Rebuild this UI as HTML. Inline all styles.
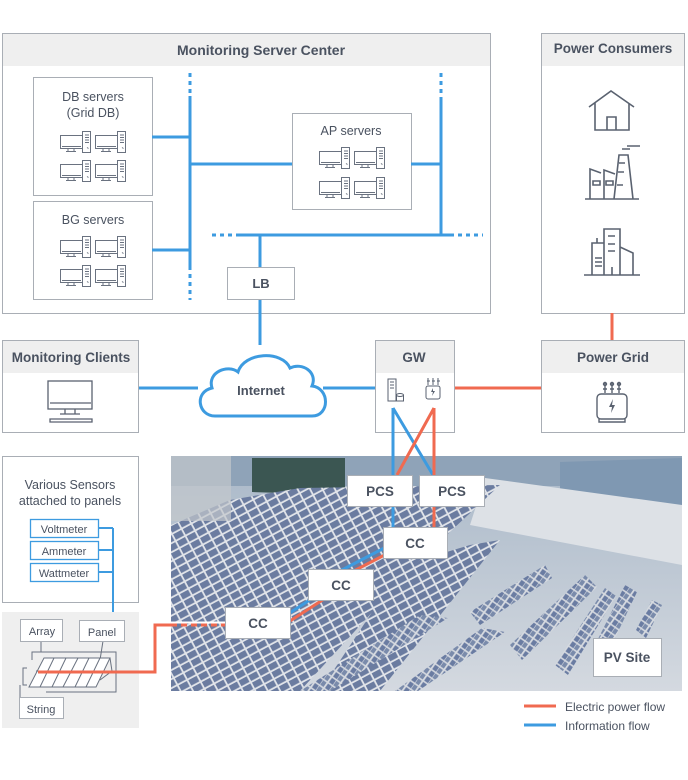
<!DOCTYPE html>
<html><head><meta charset="utf-8"><style>
body{margin:0;background:#fff}
svg{display:block}
text{font-family:"Liberation Sans",sans-serif;fill:#4a5260}
</style></head><body>
<svg width="688" height="780" viewBox="0 0 688 780" xmlns="http://www.w3.org/2000/svg">
<defs>
<g id="srv" fill="none" stroke="#6a7280" stroke-width="1">
<rect x="0.5" y="4.5" width="22" height="13"/>
<path d="M2 15.5h19M8 18v2M14 18v2M6 20.5h10"/>
<rect x="22.5" y="0.5" width="8" height="21"/>
<path d="M25 4h4M25 6.5h4M25 9h4M25 11.5h4M27 16.5l1.5 1"/>
</g>
<pattern id="pv" width="11" height="8" patternUnits="userSpaceOnUse" patternTransform="rotate(-28)">
<rect width="11" height="8" fill="#e2e5ea"/>
<rect x="1" y="1" width="9.2" height="6.2" fill="#6b7ca0"/>
</pattern>
<pattern id="pv2" width="7" height="11" patternUnits="userSpaceOnUse" patternTransform="rotate(-55)">
<rect width="7" height="11" fill="#d6dae0"/>
<rect x="0.8" y="0.8" width="5.4" height="4.6" fill="#6a7ca2"/>
<rect x="0.8" y="6" width="5.4" height="4" fill="#7a8bab"/>
</pattern>
<linearGradient id="sky" x1="0" y1="0" x2="0" y2="1"><stop offset="0" stop-color="#a9b8c8"/><stop offset="1" stop-color="#d4d9e0"/></linearGradient>
</defs>

<!-- Monitoring Server Center -->
<rect x="2.5" y="33.5" width="488" height="280" fill="#fff" stroke="#a9aeb5"/>
<rect x="3" y="34" width="487" height="32" fill="#efefef"/>
<text x="261" y="55" font-size="14" text-anchor="middle" font-weight="bold">Monitoring Server Center</text>

<rect x="33.5" y="77.5" width="119" height="118" fill="#fff" stroke="#a9aeb5"/>
<text x="93" y="101" font-size="12.5" text-anchor="middle">DB servers</text>
<text x="93" y="117" font-size="12.5" text-anchor="middle">(Grid DB)</text>
<use href="#srv" x="60" y="131"/><use href="#srv" x="95" y="131"/>
<use href="#srv" x="60" y="160"/><use href="#srv" x="95" y="160"/>

<rect x="33.5" y="201.5" width="119" height="98" fill="#fff" stroke="#a9aeb5"/>
<text x="93" y="224" font-size="12.5" text-anchor="middle">BG servers</text>
<use href="#srv" x="60" y="236"/><use href="#srv" x="95" y="236"/>
<use href="#srv" x="60" y="265"/><use href="#srv" x="95" y="265"/>

<rect x="292.5" y="113.5" width="119" height="96" fill="#fff" stroke="#a9aeb5"/>
<text x="351" y="135" font-size="12.5" text-anchor="middle">AP servers</text>
<use href="#srv" x="319" y="147"/><use href="#srv" x="354" y="147"/>
<use href="#srv" x="319" y="177"/><use href="#srv" x="354" y="177"/>

<g stroke="#3d9be0" stroke-width="3" fill="none">
<path d="M190 96V266M152 137H190M152 250H190M190 164H292M411 164H441M441 100V235M240 235H450M260 235V267M260 299V345"/>
<path d="M190 73V96M190 266V300M441 73V100M212 235H240M450 235H483" stroke-dasharray="4 4"/>
<path d="M139 388H198M323 388H376"/>
</g>

<rect x="227.5" y="267.5" width="67" height="32" fill="#fff" stroke="#a9aeb5"/>
<text x="261" y="288" font-size="13" font-weight="bold" text-anchor="middle">LB</text>

<!-- Power Consumers -->
<rect x="541.5" y="33.5" width="143" height="280" fill="#fff" stroke="#a9aeb5"/>
<rect x="542" y="34" width="142" height="32" fill="#efefef"/>
<text x="613" y="53" font-size="13.5" font-weight="bold" text-anchor="middle">Power Consumers</text>
<g fill="none" stroke="#5a6270" stroke-width="1.6">
<path d="M589 107L611 91L634 107M595 103V130H629V103M607 130V117H616V130"/>
<path d="M585 199H639M590 199V169L601 173M604 199V170L615 174M614 199L619 155H628L633 199M622 149H630M627 146H640M593 181h7v4h-7zM606 181h7v4h-7zM619 163h6M618 172h6M617 185h6"/>
<path d="M584 275H640M592 275V243H604V275M604 275V229H620V275M620 247L633 253V275M595 258H602M595 262H602M595 266H602M608 236H615M608 244H615M608 251H615M597 238V243M612 267V275"/>
</g>

<path d="M612 313V341" stroke="#f06a50" stroke-width="3"/>

<!-- Power Grid -->
<rect x="541.5" y="340.5" width="143" height="92" fill="#fff" stroke="#a9aeb5"/>
<rect x="542" y="341" width="142" height="32" fill="#efefef"/>
<text x="613" y="362" font-size="13.5" font-weight="bold" text-anchor="middle">Power Grid</text>
<g fill="none" stroke="#5a6270" stroke-width="1.4">
<rect x="597" y="394" width="30" height="25" rx="4"/>
<path d="M599 419v3h26v-3M605 383v10M612 383v10M619 383v10M603 389h4M610 389h4M617 389h4"/>
<circle cx="605" cy="384" r="1.5"/><circle cx="612" cy="384" r="1.5"/><circle cx="619" cy="384" r="1.5"/>
</g>
<path d="M613 399l-4 8h3l-1 6 4-8h-3z" fill="#5a6270"/>

<!-- Monitoring Clients -->
<rect x="2.5" y="340.5" width="136" height="92" fill="#fff" stroke="#a9aeb5"/>
<rect x="3" y="341" width="135" height="32" fill="#efefef"/>
<text x="71" y="362" font-size="13.5" font-weight="bold" text-anchor="middle">Monitoring Clients</text>
<g fill="none" stroke="#5a6270" stroke-width="1.3">
<rect x="48" y="381" width="44" height="28"/><path d="M50 403H91M65 409v5M75 409v5M60 414h20M50 419h42v3H50z"/>
</g>

<!-- Cloud -->
<path d="M215 416 C198 416 194 392 212 388 C207 372 228 364 238 372 C244 352 282 350 290 368 C302 362 318 372 312 386 C330 388 330 416 312 416 Z" fill="#fff" stroke="#3d9be0" stroke-width="3"/>
<text x="261" y="395" font-size="13" font-weight="bold" text-anchor="middle">Internet</text>

<!-- GW -->
<path d="M454 388H541" stroke="#f06a50" stroke-width="3"/>
<rect x="375.5" y="340.5" width="79" height="92" fill="#fff" stroke="#a9aeb5"/>
<rect x="376" y="341" width="78" height="32" fill="#efefef"/>
<text x="414" y="362" font-size="13.5" font-weight="bold" text-anchor="middle">GW</text>
<g fill="none" stroke="#5a6270" stroke-width="1">
<rect x="388" y="379" width="8" height="22"/><path d="M390 382h4M390 385h4M390 388h4"/><ellipse cx="400" cy="395" rx="3.5" ry="1.5"/><path d="M396.5 395v6h7v-6"/>
<rect x="426" y="386" width="14" height="13" rx="2"/><path d="M428 378v7M433 378v7M438 378v7M427 381h3M432 381h3M437 381h3"/>
</g>
<path d="M433 388l-2 4h2l-1 4 3-5h-2z" fill="#5a6270"/>

<!-- Sensors -->
<rect x="2.5" y="456.5" width="136" height="146" fill="#fff" stroke="#a9aeb5"/>
<text x="70" y="489" font-size="12.5" text-anchor="middle">Various Sensors</text>
<text x="70" y="505" font-size="12.5" text-anchor="middle">attached to panels</text>
<g fill="#fff" stroke="#3d9be0" stroke-width="1.3">
<rect x="30.5" y="519.5" width="68" height="18"/><rect x="30.5" y="541.5" width="68" height="18"/><rect x="30.5" y="563.5" width="68" height="18"/>
</g>
<text x="64" y="533" font-size="11" text-anchor="middle">Voltmeter</text>
<text x="64" y="555" font-size="11" text-anchor="middle">Ammeter</text>
<text x="64" y="577" font-size="11" text-anchor="middle">Wattmeter</text>
<path d="M99 528H113M99 550H113M99 572H113M113 528V620" stroke="#3d9be0" stroke-width="2" fill="none"/>

<!-- Panel area -->
<rect x="2" y="612" width="137" height="116" fill="#efefef"/>
<g fill="none" stroke="#6a7280" stroke-width="1">
<path d="M41 642V652H116V692H46M32 660V652H41"/>
<path d="M27 668H23V685H27M20 685V697"/>
<path d="M103 641L100 660"/>
<path d="M44 658H110L96 687H29Z" fill="#fff"/>
<path d="M36 671H103M54 658L40 687M66 658L52 687M78 658L63 687M89 658L75 687M100 658L86 687M110 658L112 671L100 680"/>
</g>
<g fill="#fff" stroke="#a9aeb5" stroke-width="1">
<rect x="20.5" y="619.5" width="42" height="22"/><rect x="79.5" y="620.5" width="45" height="21"/><rect x="19.5" y="697.5" width="44" height="21"/>
</g>
<text x="42" y="635" font-size="11" text-anchor="middle">Array</text>
<text x="102" y="636" font-size="11" text-anchor="middle">Panel</text>
<text x="41" y="713" font-size="11" text-anchor="middle">String</text>

<!-- Photo -->
<rect x="171" y="456" width="511" height="235" fill="url(#sky)"/>
<rect x="171" y="456" width="511" height="30" fill="#8fa3b8"/>
<polygon points="252,458 345,458 345,495 252,492" fill="#3b5652"/>
<polygon points="560,462 682,458 682,540 560,505" fill="#7f98b2"/>
<polygon points="485,478 682,505 682,565 470,525" fill="#dde1e6"/>
<polygon points="171,525 230,500 300,488 500,485 420,560 300,691 171,691" fill="url(#pv)"/>
<polygon points="380,600 420,560 470,545 500,540 380,691 320,691" fill="url(#pv)"/>
<g fill="url(#pv2)">
<polygon points="470,612 545,565 552,578 480,625"/>
<polygon points="510,645 585,575 597,587 522,660"/>
<polygon points="555,665 605,588 616,596 568,675"/>
<polygon points="595,645 625,585 637,592 607,655"/>
<polygon points="636,630 652,600 662,605 646,638"/>
<polygon points="300,691 420,615 448,618 330,691"/>
<polygon points="395,691 482,628 505,632 418,691"/>
</g>
<rect x="171" y="456" width="60" height="65" fill="#c3c7cc" opacity="0.7"/>

<!-- wires -->
<g fill="none" stroke-width="3">
<path d="M393 408L433 475M393 408V527" stroke="#3d9be0"/>
<path d="M434 408L397 475M434 408V527" stroke="#f06a50"/>
<path d="M390 545L340 571M333 585L285 616" stroke="#3d9be0"/>
<path d="M396 549L346 575M338 590L290 621" stroke="#f06a50"/>
<path d="M38 672H155V625H171" stroke="#f06a50"/>
<path d="M171 625H225" stroke="#f06a50" stroke-dasharray="6 4"/>
</g>
<path d="M171 622.5H225" stroke="#fff" stroke-width="2"/>

<g fill="#fff" stroke="#a9aeb5" stroke-width="1">
<rect x="347.5" y="475.5" width="65" height="31"/><rect x="419.5" y="475.5" width="65" height="31"/>
<rect x="383.5" y="527.5" width="64" height="31"/><rect x="308.5" y="569.5" width="65" height="31"/>
<rect x="225.5" y="607.5" width="65" height="31"/><rect x="593.5" y="638.5" width="68" height="38"/>
</g>
<g font-size="13.5" font-weight="bold" text-anchor="middle">
<text x="380" y="496">PCS</text><text x="452" y="496">PCS</text>
<text x="415" y="548">CC</text><text x="341" y="590">CC</text><text x="258" y="628">CC</text>
<text x="627" y="662">PV Site</text>
</g>

<!-- Legend -->
<path d="M524 706H556" stroke="#f06a50" stroke-width="3"/>
<path d="M524 725H556" stroke="#3d9be0" stroke-width="3"/>
<text x="565" y="711" font-size="12">Electric power flow</text>
<text x="565" y="730" font-size="12">Information flow</text>
</svg>
</body></html>
